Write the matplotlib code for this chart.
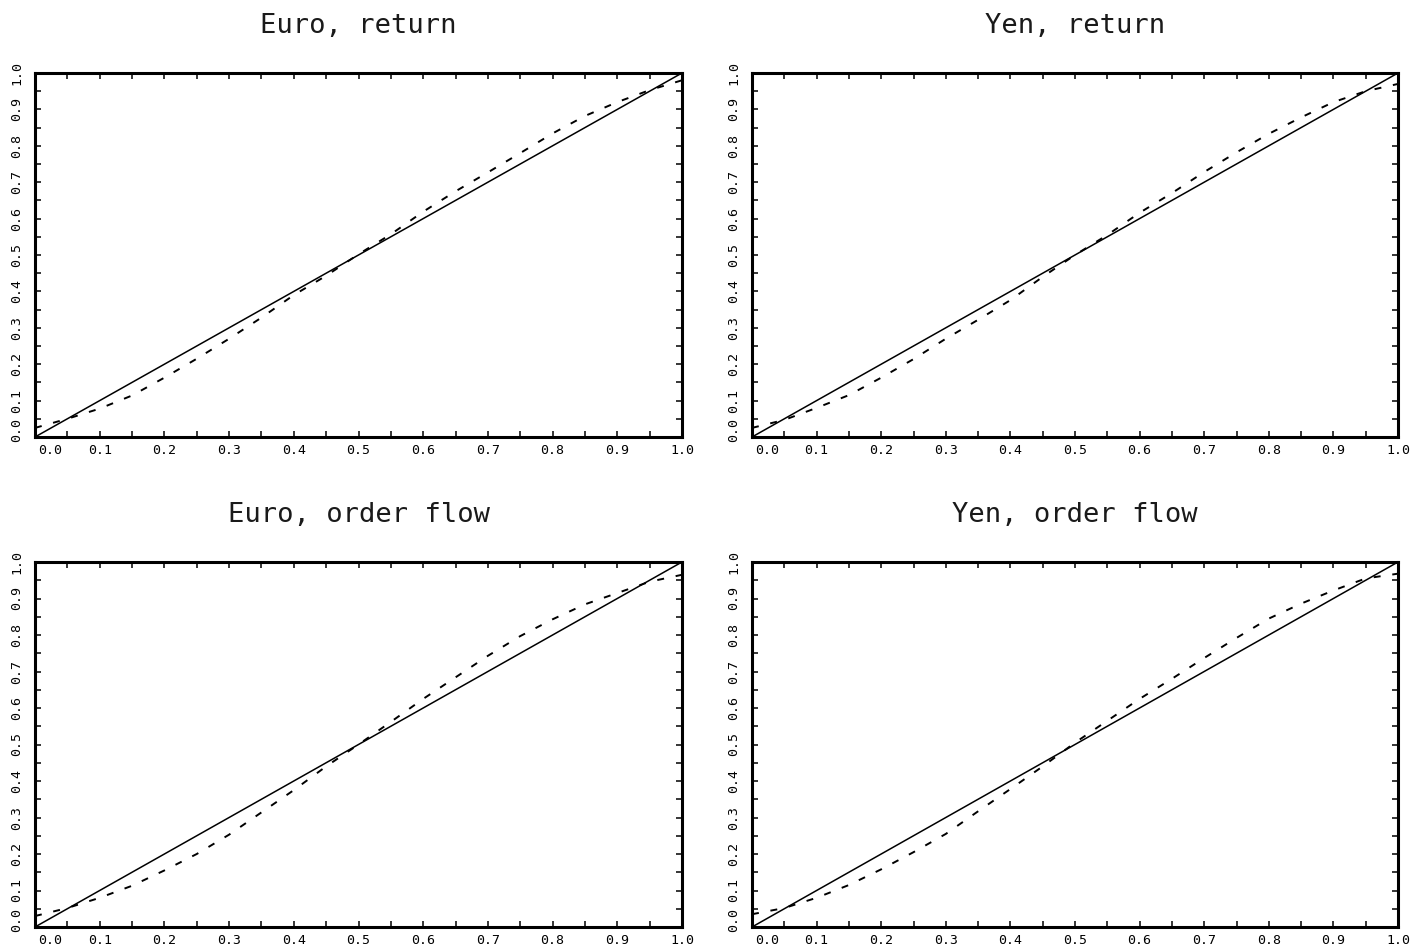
import matplotlib
matplotlib.use("Agg")
import matplotlib.pyplot as plt
from matplotlib.transforms import ScaledTranslation

plt.rcParams["font.family"] = ["DejaVu Sans Mono", "DejaVu Sans"]
plt.rcParams["lines.scale_dashes"] = False

# Evaluation grid on [0, 1] and the uniform (45-degree) reference
grid = [0.00, 0.05, 0.10, 0.15, 0.20, 0.25, 0.30, 0.35, 0.40, 0.45, 0.50,
        0.55, 0.60, 0.65, 0.70, 0.75, 0.80, 0.85, 0.90, 0.95, 1.00]
uniform_cdf = grid

# Empirical CDFs of the probability integral transforms
euro_return = [0.025, 0.050, 0.078, 0.114, 0.163, 0.215, 0.270, 0.328, 0.390, 0.443, 0.502,
               0.557, 0.619, 0.675, 0.727, 0.780, 0.834, 0.882, 0.920, 0.953, 0.980]
yen_return = [0.025, 0.047, 0.080, 0.115, 0.163, 0.214, 0.270, 0.322, 0.376, 0.440, 0.500,
              0.555, 0.616, 0.670, 0.728, 0.782, 0.833, 0.878, 0.920, 0.950, 0.970]
euro_flow = [0.030, 0.052, 0.080, 0.113, 0.155, 0.200, 0.253, 0.314, 0.375, 0.440, 0.500,
             0.562, 0.625, 0.684, 0.743, 0.797, 0.843, 0.884, 0.915, 0.946, 0.965]
yen_flow = [0.035, 0.052, 0.080, 0.115, 0.158, 0.205, 0.255, 0.317, 0.378, 0.440, 0.505,
            0.565, 0.625, 0.680, 0.737, 0.792, 0.845, 0.886, 0.922, 0.955, 0.968]

titles = ["Euro, return", "Yen, return", "Euro, order flow", "Yen, order flow"]
series = [euro_return, yen_return, euro_flow, yen_flow]

major_ticks = [0.0, 0.1, 0.2, 0.3, 0.4, 0.5, 0.6, 0.7, 0.8, 0.9, 1.0]
minor_ticks = [0.05, 0.15, 0.25, 0.35, 0.45, 0.55, 0.65, 0.75, 0.85, 0.95]
tick_labels = ["0.0", "0.1", "0.2", "0.3", "0.4", "0.5", "0.6", "0.7", "0.8", "0.9", "1.0"]

W, H = 1427, 949
fig = plt.figure(figsize=(W / 100, H / 100), dpi=100)

# axes boxes in pixels: left, top, right, bottom
boxes = [(35, 73, 682, 437), (752, 73, 1398, 437),
         (35, 562, 682, 927), (752, 562, 1398, 927)]

for (l, t, r, b), title, cdf in zip(boxes, titles, series):
    ax = fig.add_axes([l / W, 1 - b / H, (r - l) / W, (b - t) / H])
    ax.plot(grid, uniform_cdf, color="black", lw=1.1, solid_capstyle="butt")
    ax.plot(grid, cdf, color="black", lw=1.4, dashes=(5, 8.5))
    ax.set_xlim(0, 1)
    ax.set_ylim(0, 1)
    ax.set_xticks(major_ticks)
    ax.set_yticks(major_ticks)
    ax.set_xticks(minor_ticks, minor=True)
    ax.set_yticks(minor_ticks, minor=True)
    ax.set_xticklabels(tick_labels)
    ax.set_yticklabels(tick_labels, rotation=90, va="center")
    for which in ("major", "minor"):
        ax.tick_params(axis="both", which=which, direction="in", length=4.5, width=1.1,
                       top=True, right=True, labelsize=9.5, color="black")
    ax.tick_params(axis="x", which="major", pad=5)
    ax.tick_params(axis="y", which="major", pad=8.5)
    for sp in ax.spines.values():
        sp.set_linewidth(2.2)
    # nudge the origin labels away from the corner
    xl0 = ax.get_xticklabels()[0]
    xl0.set_transform(xl0.get_transform() + ScaledTranslation(0.15, 0, fig.dpi_scale_trans))
    yl0 = ax.get_yticklabels()[0]
    yl0.set_transform(yl0.get_transform() + ScaledTranslation(0, 0.07, fig.dpi_scale_trans))
    ax.set_title(title, fontsize=19.5, pad=29, color="#1a1a1a")

fig.savefig("out.png", dpi=100, facecolor="white")
